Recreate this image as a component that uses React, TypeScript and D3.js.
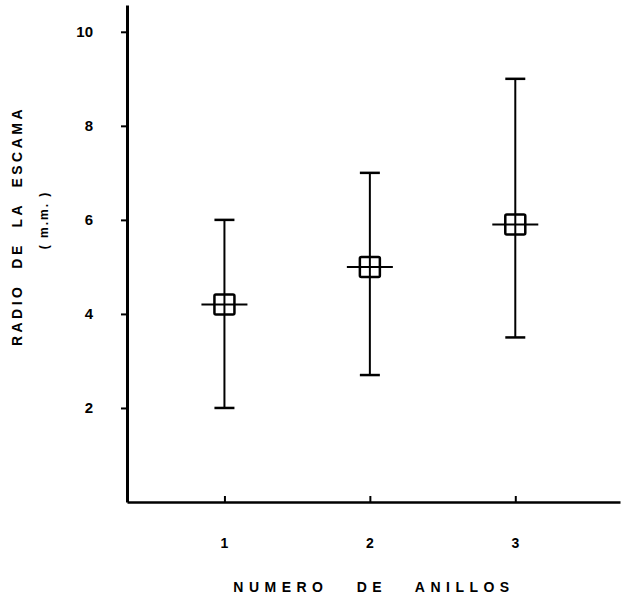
import React, { useEffect, useRef } from 'react';
import * as d3 from 'd3';

// datos
const anillos = [1, 2, 3];
const media = [4.2, 5.0, 5.9];
const minimo = [2.0, 2.7, 3.5];
const maximo = [6.0, 7.0, 9.0];
const yTicks = [2, 4, 6, 8, 10];

const ancho = 628;
const alto = 602;

export default function App() {
  const svgRef = useRef<SVGSVGElement>(null);

  useEffect(() => {
    const svg = d3.select(svgRef.current);
    svg.selectAll('*').remove();

    const fuente = '"Liberation Sans", Arial, sans-serif';

    const x = d3.scaleLinear().domain([0.33, 3.72]).range([127, 620]);
    const y = d3.scaleLinear().domain([0, 10.57]).range([502, 5]);

    // eje y
    const ejeY = svg.append('g')
      .attr('transform', `translate(${x(0.33)},0)`)
      .call(
        d3.axisLeft(y)
          .tickValues(yTicks)
          .tickSize(6)
          .tickSizeOuter(0)
          .tickPadding(28)
          .tickFormat(d3.format('d'))
      );
    ejeY.select('.domain').attr('stroke', '#000').attr('stroke-width', 3);
    ejeY.selectAll('.tick line').attr('stroke', '#000').attr('stroke-width', 2);
    ejeY.selectAll('.tick text')
      .attr('fill', '#000')
      .style('font-family', fuente)
      .style('font-size', '15px')
      .style('font-weight', 'bold');

    // eje x
    const ejeX = svg.append('g')
      .attr('transform', `translate(0,${y(0)})`)
      .call(
        d3.axisTop(x)
          .tickValues(anillos)
          .tickSize(6)
          .tickSizeOuter(0)
          .tickFormat(() => '')
      );
    ejeX.select('.domain').attr('stroke', '#000').attr('stroke-width', 2.5);
    ejeX.selectAll('.tick line').attr('stroke', '#000').attr('stroke-width', 2);

    svg.append('g')
      .selectAll('text')
      .data(anillos)
      .enter()
      .append('text')
      .attr('x', d => x(d))
      .attr('y', y(0) + 46)
      .attr('text-anchor', 'middle')
      .style('font-family', fuente)
      .style('font-size', '14px')
      .style('font-weight', 'bold')
      .text(d => d);

    // barras de rango
    const grupos = svg.append('g')
      .selectAll('g')
      .data(anillos)
      .enter()
      .append('g');

    grupos.append('line')
      .attr('x1', d => x(d))
      .attr('x2', d => x(d))
      .attr('y1', (d, i) => y(maximo[i]))
      .attr('y2', (d, i) => y(minimo[i]))
      .attr('stroke', '#000')
      .attr('stroke-width', 2);

    const cap = 10;
    grupos.append('line')
      .attr('x1', d => x(d) - cap)
      .attr('x2', d => x(d) + cap)
      .attr('y1', (d, i) => y(maximo[i]))
      .attr('y2', (d, i) => y(maximo[i]))
      .attr('stroke', '#000')
      .attr('stroke-width', 2.5);

    grupos.append('line')
      .attr('x1', d => x(d) - cap)
      .attr('x2', d => x(d) + cap)
      .attr('y1', (d, i) => y(minimo[i]))
      .attr('y2', (d, i) => y(minimo[i]))
      .attr('stroke', '#000')
      .attr('stroke-width', 2.5);

    // media: cuadrado con linea horizontal
    grupos.append('line')
      .attr('x1', d => x(d) - 23)
      .attr('x2', d => x(d) + 23)
      .attr('y1', (d, i) => y(media[i]))
      .attr('y2', (d, i) => y(media[i]))
      .attr('stroke', '#000')
      .attr('stroke-width', 2);

    const lado = 20;
    grupos.append('rect')
      .attr('x', d => x(d) - lado / 2)
      .attr('y', (d, i) => y(media[i]) - lado / 2)
      .attr('width', lado)
      .attr('height', lado)
      .attr('rx', 1.5)
      .attr('fill', 'none')
      .attr('stroke', '#000')
      .attr('stroke-width', 2.5);

    // titulos
    svg.append('text')
      .attr('x', 374)
      .attr('y', 592)
      .attr('text-anchor', 'middle')
      .style('font-family', fuente)
      .style('font-size', '14px')
      .style('font-weight', 'bold')
      .style('letter-spacing', '5.5px')
      .style('white-space', 'pre')
      .text('NUMERO   DE   ANILLOS');

    svg.append('text')
      .attr('transform', 'translate(22,226) rotate(-90)')
      .attr('text-anchor', 'middle')
      .style('font-family', fuente)
      .style('font-size', '14px')
      .style('font-weight', 'bold')
      .style('letter-spacing', '3.5px')
      .style('white-space', 'pre')
      .text('RADIO  DE  LA  ESCAMA');

    svg.append('text')
      .attr('transform', 'translate(48,220) rotate(-90)')
      .attr('text-anchor', 'middle')
      .style('font-family', fuente)
      .style('font-size', '12px')
      .style('font-weight', 'bold')
      .style('letter-spacing', '2px')
      .style('white-space', 'pre')
      .text('( m.m. )');
  }, []);

  return (
    <svg
      ref={svgRef}
      width={ancho}
      height={alto}
      style={{ position: 'absolute', left: 0, top: 0, background: '#fff' }}
    />
  );
}
